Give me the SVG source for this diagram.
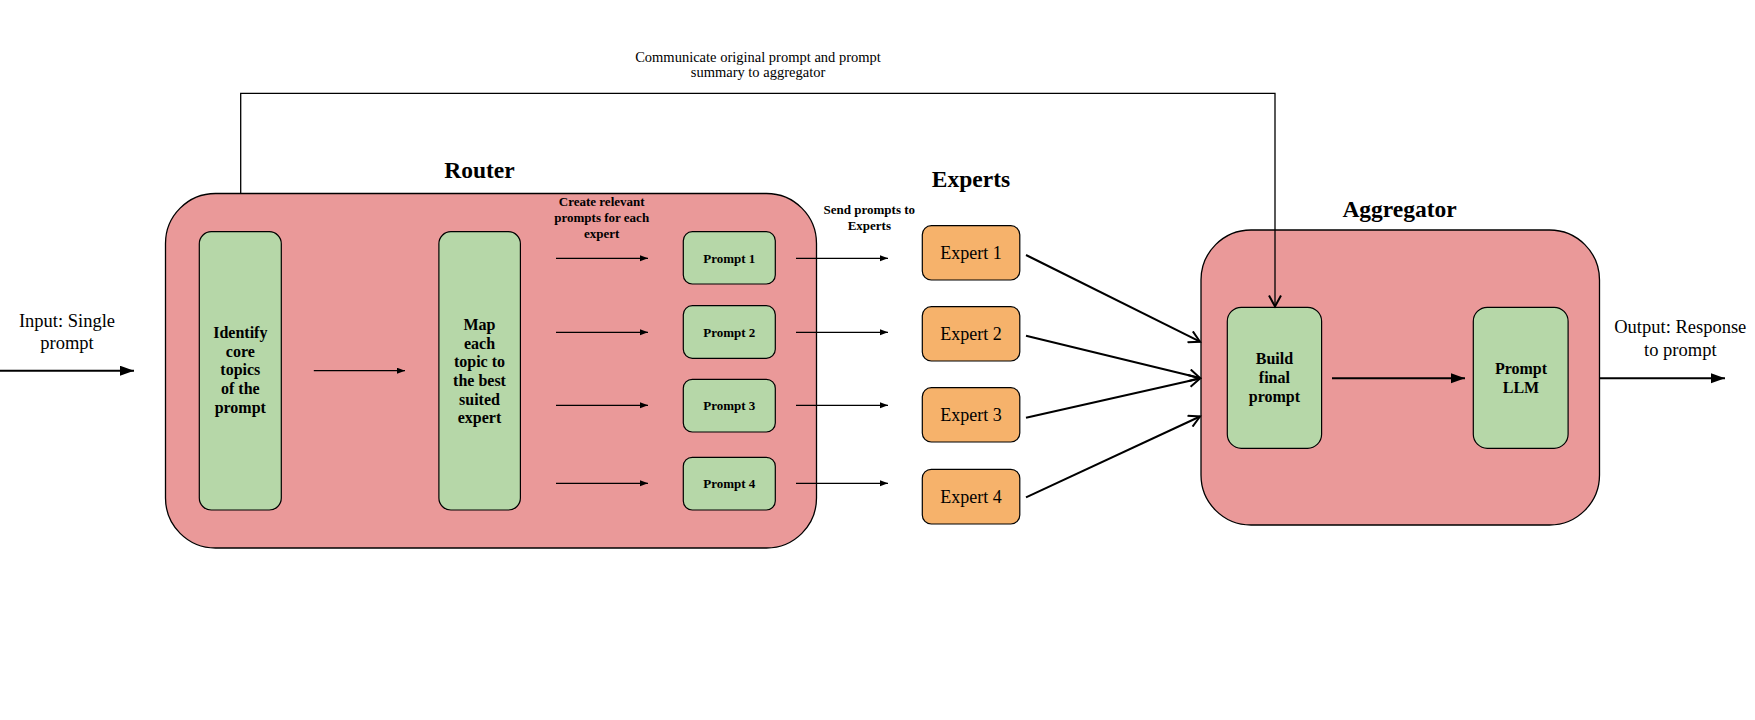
<svg xmlns="http://www.w3.org/2000/svg" width="1755" height="720" viewBox="0 0 1755 720">
<style>
text{font-family:"Liberation Serif","Times New Roman",serif;fill:#000;text-anchor:middle}
.title{font-size:23.5px;font-weight:bold}
.b16{font-size:16px;font-weight:bold}
.b13{font-size:13px;font-weight:bold}
.r18{font-size:18.5px}
.ex{font-size:18px}
.r14{font-size:14.5px}
.group{fill:#ea9999;stroke:#000;stroke-width:1.3}
.green{fill:#b6d7a8;stroke:#000;stroke-width:1.2}
.orange{fill:#f6b26b;stroke:#000;stroke-width:1.2}
.thin{stroke:#000;stroke-width:1.3;fill:none}
.thick{stroke:#000;stroke-width:2;fill:none}
</style>
<defs>
<marker id="tri" markerUnits="userSpaceOnUse" markerWidth="10" markerHeight="8" refX="8" refY="3" orient="auto">
<path d="M0,0 L8,3 L0,6 Z" fill="#000"/>
</marker>
<marker id="triBig" markerUnits="userSpaceOnUse" markerWidth="16" markerHeight="12" refX="14" refY="5" orient="auto">
<path d="M0,0 L14,5 L0,10 Z" fill="#000"/>
</marker>
<marker id="chev" markerUnits="userSpaceOnUse" markerWidth="16" markerHeight="14" refX="12" refY="7" orient="auto">
<path d="M1,1 L12,7 L1,13" fill="none" stroke="#000" stroke-width="2"/>
</marker>
</defs>
<rect width="1755" height="720" fill="#fff"/>

<g id="router">
<rect class="group" x="165.5" y="193.5" width="651" height="354.5" rx="50" ry="50"/>
<text class="title" x="479.5" y="178">Router</text>
</g>
<g id="experts-title"><text class="title" x="971" y="186.7">Experts</text></g>
<g id="aggregator">
<rect class="group" x="1201" y="230" width="398.5" height="295" rx="50" ry="50"/>
<text class="title" x="1399.6" y="216.7">Aggregator</text>
</g>

<g id="identify">
<rect class="green" x="199.3" y="231.7" width="82" height="278.3" rx="12"/>
<text class="b16" x="240.3" y="338">Identify</text>
<text class="b16" x="240.3" y="356.7">core</text>
<text class="b16" x="240.3" y="375.4">topics</text>
<text class="b16" x="240.3" y="394">of the</text>
<text class="b16" x="240.3" y="412.7">prompt</text>
</g>
<g id="map">
<rect class="green" x="438.9" y="231.7" width="81.5" height="278.3" rx="12"/>
<text class="b16" x="479.5" y="330">Map</text>
<text class="b16" x="479.5" y="348.7">each</text>
<text class="b16" x="479.5" y="367.4">topic to</text>
<text class="b16" x="479.5" y="386">the best</text>
<text class="b16" x="479.5" y="404.7">suited</text>
<text class="b16" x="479.5" y="423.4">expert</text>
</g>

<g id="prompt1"><rect class="green" x="683.3" y="231.7" width="92" height="52.3" rx="9"/><text class="b13" x="729.3" y="262.5">Prompt 1</text></g>
<g id="prompt2"><rect class="green" x="683.3" y="305.7" width="92" height="52.6" rx="9"/><text class="b13" x="729.3" y="336.6">Prompt 2</text></g>
<g id="prompt3"><rect class="green" x="683.3" y="379.3" width="92" height="52.7" rx="9"/><text class="b13" x="729.3" y="410.3">Prompt 3</text></g>
<g id="prompt4"><rect class="green" x="683.3" y="457.3" width="92" height="52.7" rx="9"/><text class="b13" x="729.3" y="488.3">Prompt 4</text></g>

<g id="expert1"><rect class="orange" x="922.3" y="225.7" width="97.5" height="54.3" rx="9"/><text class="ex" x="971" y="259.3">Expert 1</text></g>
<g id="expert2"><rect class="orange" x="922.3" y="306.7" width="97.5" height="54.3" rx="9"/><text class="ex" x="971" y="340.3">Expert 2</text></g>
<g id="expert3"><rect class="orange" x="922.3" y="387.7" width="97.5" height="54.3" rx="9"/><text class="ex" x="971" y="421.3">Expert 3</text></g>
<g id="expert4"><rect class="orange" x="922.3" y="469.3" width="97.5" height="54.7" rx="9"/><text class="ex" x="971" y="503">Expert 4</text></g>

<g id="build">
<rect class="green" x="1227.3" y="307.3" width="94.3" height="141" rx="14"/>
<text class="b16" x="1274.4" y="364">Build</text>
<text class="b16" x="1274.4" y="383">final</text>
<text class="b16" x="1274.4" y="402">prompt</text>
</g>
<g id="llm">
<rect class="green" x="1473.3" y="307.3" width="94.8" height="141" rx="14"/>
<text class="b16" x="1521" y="374">Prompt</text>
<text class="b16" x="1521" y="392.5">LLM</text>
</g>

<g id="connectors">
<line class="thick" x1="0" y1="370.7" x2="134" y2="370.7" marker-end="url(#triBig)"/>
<line class="thin" x1="313.8" y1="370.7" x2="405" y2="370.7" marker-end="url(#tri)"/>
<line class="thin" x1="556" y1="258.3" x2="648" y2="258.3" marker-end="url(#tri)"/>
<line class="thin" x1="556" y1="332.3" x2="648" y2="332.3" marker-end="url(#tri)"/>
<line class="thin" x1="556" y1="405.3" x2="648" y2="405.3" marker-end="url(#tri)"/>
<line class="thin" x1="556" y1="483.3" x2="648" y2="483.3" marker-end="url(#tri)"/>
<line class="thin" x1="796" y1="258.3" x2="888" y2="258.3" marker-end="url(#tri)"/>
<line class="thin" x1="796" y1="332.3" x2="888" y2="332.3" marker-end="url(#tri)"/>
<line class="thin" x1="796" y1="405.3" x2="888" y2="405.3" marker-end="url(#tri)"/>
<line class="thin" x1="796" y1="483.3" x2="888" y2="483.3" marker-end="url(#tri)"/>
<line class="thick" x1="1026" y1="255" x2="1200" y2="341.7" marker-end="url(#chev)"/>
<line class="thick" x1="1026" y1="335.7" x2="1200" y2="378" marker-end="url(#chev)"/>
<line class="thick" x1="1026" y1="417.7" x2="1200" y2="378.5" marker-end="url(#chev)"/>
<line class="thick" x1="1026" y1="497.3" x2="1200" y2="416.5" marker-end="url(#chev)"/>
<polyline class="thin" points="240.7,193.5 240.7,93.3 1275,93.3 1275,306.5" stroke-width="1.6" marker-end="url(#chev)"/>
<line class="thick" x1="1332" y1="378.3" x2="1465" y2="378.3" marker-end="url(#triBig)"/>
<line class="thick" x1="1599.5" y1="378.3" x2="1725" y2="378.3" marker-end="url(#triBig)"/>
</g>

<g id="labels">
<text class="r18" x="67" y="327">Input: Single</text>
<text class="r18" x="67" y="349">prompt</text>
<text class="r18" x="1680.3" y="333.3">Output: Response</text>
<text class="r18" x="1680.3" y="355.7">to prompt</text>
<text class="r14" x="758" y="61.7">Communicate original prompt and prompt</text>
<text class="r14" x="758" y="76.7">summary to aggregator</text>
<text class="b13" x="601.7" y="206">Create relevant</text>
<text class="b13" x="601.7" y="222.3">prompts for each</text>
<text class="b13" x="601.7" y="237.7">expert</text>
<text class="b13" x="869.3" y="214.3">Send prompts to</text>
<text class="b13" x="869.3" y="230">Experts</text>
</g>
</svg>
